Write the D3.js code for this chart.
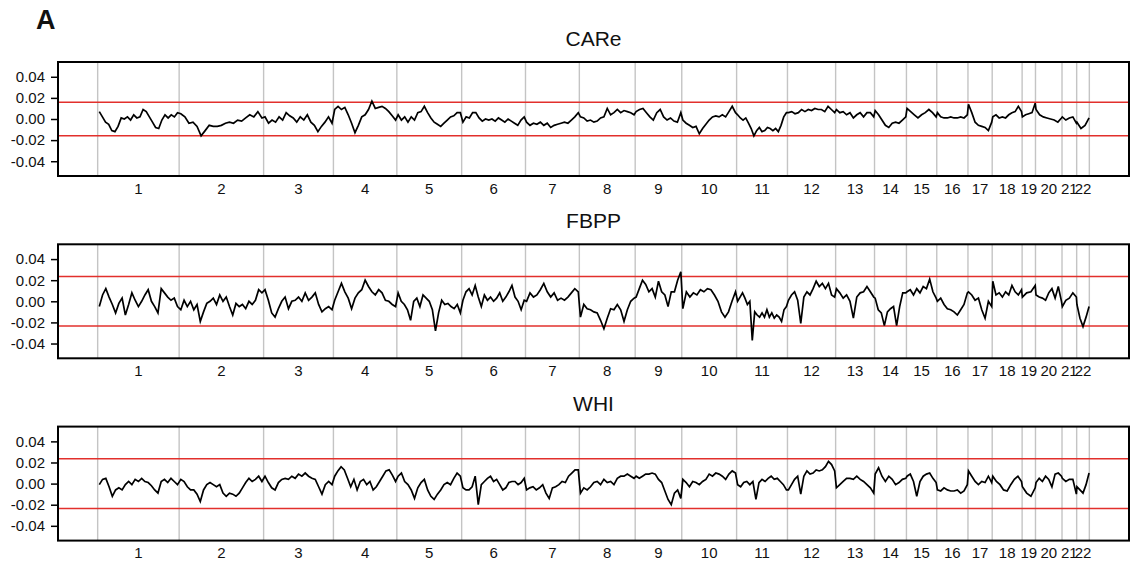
<!DOCTYPE html>
<html>
<head>
<meta charset="utf-8">
<script src="https://cdn.jsdelivr.net/npm/d3@7/dist/d3.min.js"></script>
<style>
  body { margin: 0; background: #fff; }
  text { font-family: "Liberation Sans", Arial, Helvetica, sans-serif; fill: #111; }
</style>
</head>
<body>
<script>
// chromosome labels and relative sizes (marker counts, arbitrary units)
const chrLabels = ["1","2","3","4","5","6","7","8","9","10","11","12","13","14","15","16","17","18","19","20","21","22"];
const chrSizes = [81.7, 84.7, 70, 63.6, 65, 64, 54, 56, 46.7, 55, 51, 48.3, 39, 32, 30.4, 31.3, 24.3, 30, 13.4, 26.6, 14.7, 12.7];

const yTicks = [-40, -20, 0, 20, 40];           // in units of 0.001
const panelTitles = ["CARe", "FBPP", "WHI"];
const thresholds = [15.8, 23.4, 23.5];           // red lines at +/- value (x 0.001)

// per-chromosome values, units of 0.001
const careValues = [
  [7,2,-3,-5,-11,-12,-7,1,0,2,-1,4,1,2,9,7,2,-3,-8,-9,-1,4,1,4,2,6],
  [5,2,-4,-3,-7,-16,-11,-6,-7,-7,-6,-4,-3,-4,-1,-2,1,4,2,7,1],
  [2,-4,-1,-3,2,-1,6,3,1,-3,2,-1,4,-3,-6,-12,-7,-3,2,-4],
  [9,12,9,11,4,-4,-13,-6,2,4,9,17,10,11,12,10,7,3,-1],
  [4,-1,2,-3,2,-1,6,7,12,6,1,-3,-5,-7,-4,-1,2,3,6,6],
  [-3,2,1,6,6,1,-2,0,-1,0,-2,1,-1,-3,0,-2,-4,-6,-1,2],
  [-3,-6,-4,-5,-3,-6,-4,-8,-6,-5,-4,-3,-4,-1,2,6],
  [2,1,-2,-1,-3,-2,1,2,10,4,6,9,6,8,7,6,4],
  [7,9,10,6,2,-1,6,9,2,-1,1,-2,-3,6],
  [-1,-4,-6,-8,-7,-14,-9,-5,-1,2,3,2,4,2,7,12,6],
  [4,1,-1,1,-4,-9,-16,-11,-8,-12,-11,-8,-9,-11,-9,-12,-6,2,6],
  [6,7,5,6,9,7,9,8,10,9,9,7,12,9,6],
  [9,6,7,4,6,1,4,6,2,6,6,2],
  [8,4,-1,-6,-8,-4,-3,-4,-1,2],
  [10,7,4,1,4,6,9,6,2],
  [6,2,1,1,2,1,1,2,1,4],
  [14,6,-3,-6,-7,-8,-11,-3],
  [2,4,1,2,1,4,6,7,12,7],
  [2,4,5,6,15],
  [9,4,2,1,0,-1,-3,1],
  [2,-1,1,2,-4],
  [-3,-9,-6,1]
];

const fbppValues = [
  [-5,6,12,4,-3,-11,-2,3,-13,-3,8,1,-5,0,6,11,0,-5,-11,12,8,4,1,3,-5],
  [-8,1,-5,0,-8,-3,-19,-10,-2,0,3,-3,6,0,4,-5,-13,-2,-5,-3,-7,0,-3,1,11,8],
  [11,1,-11,-15,-7,0,4,-7,0,1,4,0,8,1,4,8,-3,-10,-7,-5,-8],
  [1,9,17,9,3,-7,3,8,11,20,14,9,6,11,8,1,0,-3,-5],
  [8,0,-3,-8,-18,0,3,-5,6,3,0,-8,-28,-11,1,-3,-2,-5,-7,-3,-11],
  [1,9,12,6,15,4,-5,6,1,4,0,3,8,0,4,9,15,4,0,-8,1],
  [0,8,4,6,11,17,9,4,8,1,3,1,4,8,12,9],
  [-15,-3,-7,-8,-10,-11,-18,-26,-16,-7,-8,-3,-8,-19,-8,0,3],
  [4,12,20,16,9,12,4,19,9,6,-5,9,9,20,28],
  [-7,9,4,8,6,11,9,12,11,6,0,-10,-15,-10,0,9],
  [0,4,8,3,-3,0,-37,-10,-13,-15,-11,-15,-8,-15,-11,-16,-13,-15,-19,-8,-5],
  [1,6,9,1,-21,4,9,6,12,19,14,17,12,17,6,4],
  [12,8,3,6,0,-16,4,8,9,14,9,4],
  [3,-8,-11,-23,-10,-7,-5,-23,-5,8,8],
  [9,11,6,12,8,14,12,21,9,3],
  [0,3,-3,-7,-8,-10,-13,-8,-3,8],
  [9,6,1,3,-8,-16,0,-5],
  [19,6,8,4,9,6,15,9,6,11],
  [4,8,9,15],
  [6,4,3,1,8,12,3,14,0],
  [-5,1,3,8,4],
  [-3,-16,-24,-15,-5]
];

const whiValues = [
  [-1,4,5,-3,-12,-6,-4,-6,-1,2,-1,4,2,5,2,1,-2,-6,-9,2,4,1,5,2,-1],
  [4,2,-3,-6,-6,-10,-17,-6,-1,1,-1,-3,-1,-9,-12,-9,-10,-12,-9,-4,1,5,2,4,7,2],
  [7,1,-4,-6,1,4,5,4,7,5,9,7,10,7,5,4,-3,-10,-1,2,-1],
  [7,12,16,13,5,-3,4,-6,2,4,-1,2,-6,-3,2,7,12,13,8,2],
  [7,10,2,-1,-6,-14,-4,1,4,-6,-12,-15,-10,-6,-1,1,-1,5,10,7],
  [-4,-6,-6,-3,7,-20,-1,2,5,7,2,4,-1,-6,-4,1,2,2,-1,1,5],
  [-6,-4,-3,-6,-4,-1,-9,-14,-4,-3,-1,2,1,7,10,13,13],
  [-9,-4,-6,-3,1,2,-1,4,1,2,-1,5,7,7,9,7,5],
  [7,5,7,9,9,10,9,4,1,-7,-15,-20,-9,-6,-14],
  [4,1,-3,2,1,-1,2,4,9,7,10,9,7,4,9,12,10],
  [-1,-3,1,2,-1,2,-15,1,4,2,5,7,4,5,2,-1,-6],
  [-6,-1,4,7,-10,7,12,9,10,13,12,13,16,21,18,12],
  [-4,-1,2,5,5,4,7,4,2,-1,-4,-9],
  [9,15,7,2,7,4,-1,1,4,5],
  [7,9,2,-12,2,7,9,10,5,1],
  [-6,-7,-4,-6,-7,-7,-6,-9,-7,-1],
  [12,7,2,-1,2,1,7,1],
  [7,2,-1,-6,-7,-1,4,7,2],
  [-3,-9,-12,-4],
  [1,5,2,7,4,-3,9,10,7],
  [5,2,4,4,-10],
  [-3,-6,-9,-1,10]
];

const panelValues = [careValues, fbppValues, whiValues];

const width = 1131;
const height = 565;
const boxLeft = 58;
const boxRight = 1129;
const boxHeight = 114;
const firstTop = 62;
const panelStep = 182.3;

const svg = d3.select("body")
    .append("svg")
    .attr("width", width)
    .attr("height", height);

svg.append("text")
    .attr("x", 36)
    .attr("y", 29)
    .style("font-size", "27px")
    .style("font-weight", "bold")
    .text("A");

// cumulative chromosome starts
const chrStarts = [];
let acc = 0;
chrSizes.forEach(s => { chrStarts.push(acc); acc += s; });
const total = acc;

const x = d3.scaleLinear()
    .domain([-0.04 * total, 1.04 * total])
    .range([boxLeft, boxRight]);

panelValues.forEach((values, p) => {
    const top = firstTop + p * panelStep;
    const g = svg.append("g").attr("transform", `translate(0,${top})`);

    const y = d3.scaleLinear()
        .domain([-54, 54])
        .range([boxHeight, 0]);

    g.append("text")
        .attr("x", (boxLeft + boxRight) / 2)
        .attr("y", -16)
        .attr("text-anchor", "middle")
        .style("font-size", "21px")
        .text(panelTitles[p]);

    // chromosome boundaries
    const bounds = chrStarts.concat([total]);
    g.selectAll("line.grid")
        .data(bounds)
        .enter()
        .append("line")
        .attr("class", "grid")
        .attr("x1", d => x(d))
        .attr("x2", d => x(d))
        .attr("y1", 0)
        .attr("y2", boxHeight)
        .attr("stroke", "#c4c4c4")
        .attr("stroke-width", 1.4);

    // threshold lines
    g.selectAll("line.thr")
        .data([thresholds[p], -thresholds[p]])
        .enter()
        .append("line")
        .attr("class", "thr")
        .attr("x1", boxLeft)
        .attr("x2", boxRight)
        .attr("y1", d => y(d))
        .attr("y2", d => y(d))
        .attr("stroke", "#e2302c")
        .attr("stroke-width", 1.5);

    // trace
    const pts = [];
    values.forEach((arr, c) => {
        const n = arr.length;
        arr.forEach((v, j) => {
            pts.push([chrStarts[c] + chrSizes[c] * (0.02 + 0.96 * j / (n - 1)), v]);
        });
    });

    g.append("path")
        .datum(pts)
        .attr("fill", "none")
        .attr("stroke", "#000")
        .attr("stroke-width", 1.7)
        .attr("stroke-linejoin", "miter")
        .attr("d", d3.line().x(d => x(d[0])).y(d => y(d[1])));

    // box
    g.append("rect")
        .attr("x", boxLeft)
        .attr("y", 0)
        .attr("width", boxRight - boxLeft)
        .attr("height", boxHeight)
        .attr("fill", "none")
        .attr("stroke", "#000")
        .attr("stroke-width", 2);

    // y axis
    const yAxis = d3.axisLeft(y)
        .tickValues(yTicks)
        .tickSize(7)
        .tickPadding(6)
        .tickFormat(d => (d / 1000).toFixed(2));
    const ya = g.append("g")
        .attr("transform", `translate(${boxLeft},0)`)
        .call(yAxis);
    ya.select(".domain").remove();
    ya.selectAll(".tick line").attr("stroke", "#000").attr("stroke-width", 1.5);
    ya.selectAll(".tick text")
        .style("font-size", "15px")
        .style("font-family", "'Liberation Sans', Arial, sans-serif")
        .attr("fill", "#111");

    // chromosome labels (21 and 22 touch, as in the original figure)
    g.selectAll("text.chr")
        .data(chrLabels)
        .enter()
        .append("text")
        .attr("class", "chr")
        .attr("x", (d, i) => x(chrStarts[i] + chrSizes[i] / 2))
        .attr("y", boxHeight + 17.5)
        .attr("text-anchor", "middle")
        .style("font-size", "15px")
        .text(d => d);
});
</script>
</body>
</html>
